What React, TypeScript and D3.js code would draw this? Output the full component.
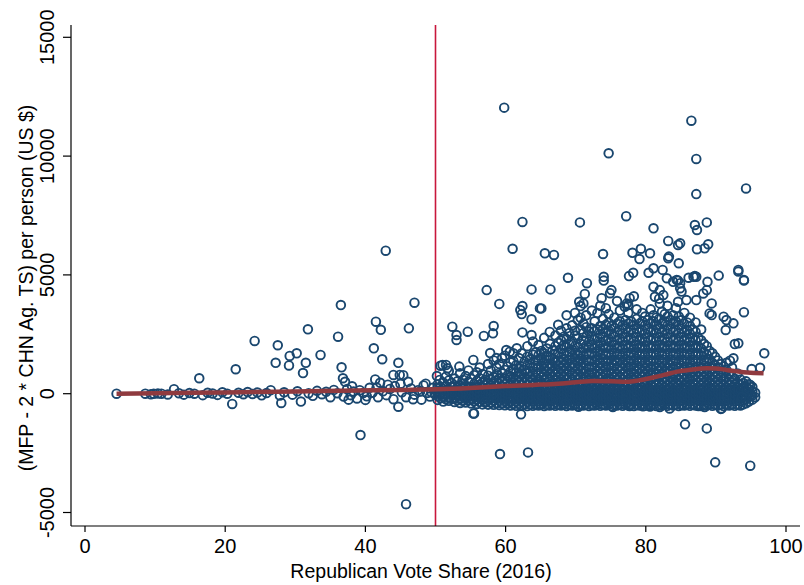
import * as d3 from 'd3';

const xTicks = [0, 20, 40, 60, 80, 100];
const yTicks = [-5000, 0, 5000, 10000, 15000];

// counties left of 50% (share, value)
const leftPoints: [number, number][] = [
  [4.5, 0], [8.6, 0], [9.4, -20], [9.8, 0], [10.4, 10], [10.9, 0], [11.8, -30], [12.7, 190], [13.4, 20],
  [14.1, -40], [14.9, 30], [15.6, 0], [16.3, 650], [16.8, -60], [17.5, 40], [18.2, 10], [18.9, -50],
  [19.6, 60], [20.3, 0], [21, -430], [21.5, 1030], [21.9, 40], [22.6, -20], [23.2, 70], [23.9, -10],
  [24.2, 2220], [24.6, 50], [25.2, -70], [25.9, 30], [26.5, 150], [27.2, 1300], [27.5, 2040], [27.8, -80],
  [28, -390], [28.4, 60], [29.1, 1190], [29.2, 1590], [29.6, -40], [30.2, 1700], [30.3, 100], [30.8, -330],
  [31.1, 870], [31.5, 1300], [31.8, 2710], [31.9, 20], [32.5, -90], [33.1, 120], [33.6, 1630], [33.8, -20],
  [34.4, 80], [35, -150], [35.5, 160], [36, 20], [36.1, 2400], [36.5, 3730], [36.6, 1110], [36.8, 650],
  [37.1, 500], [36.9, -120], [37.4, 200], [37.9, -60], [38.3, 90], [38.8, -200], [39.3, -1740], [39.2, 150],
  [39.7, 30], [40.2, -110], [40.6, 250], [41, 40], [41.2, 1910], [41.4, 600], [41.5, 3030], [41.8, -150],
  [42.1, 460], [42.2, 2690], [42.4, 1450], [42.5, 100], [42.9, 6020], [43, -60], [43.5, 200], [44, 790],
  [44, -230], [44.2, 320], [44.7, 1300], [44.7, -550], [44.9, 790], [45.2, 60], [45.4, 780], [45.8, -150],
  [45.8, -4650], [46.1, 500], [46.2, 2750], [46.5, 220], [47, 3830], [47, -40], [47.5, 150], [48, -250],
  [48.3, 350], [48.8, 30], [49.2, -120], [49.6, 250], [49.9, -20], [38.1, 310], [40, -260], [43.2, 380],
  [46.8, -230], [48.6, 420], [37.6, -250], [41.6, 260], [45, 410], [47.8, 90], [49.4, 60],
];

// dense band right of 50%: share -> values read bottom to top
const bandColumns: [number, number[]][] = [
  [50.3, [-260, -90, 40, 250, 390]],
  [50.7, [-190, -30, 150, 280, 1180]],
  [51.1, [-330, -140, 0, 200, 470]],
  [51.5, [-240, -60, 120, 310, 720]],
  [51.9, [-300, -160, 60, 180, 560, 960]],
  [52.3, [-210, -50, 100, 290, 450]],
  [52.7, [-350, -190, 20, 140, 360, 640]],
  [53.1, [-280, -100, 80, 250, 520]],
  [53.5, [-390, -210, -40, 160, 340, 860]],
  [53.9, [-300, -120, 50, 210, 430, 590]],
  [54.3, [-370, -170, -10, 130, 310, 740]],
  [54.7, [-280, -120, 70, 240, 500, 980]],
  [55.1, [-410, -230, -60, 110, 290, 620]],
  [55.5, [-320, -140, 30, 200, 410, 780]],
  [55.9, [-430, -250, -80, 120, 270, 540, 900]],
  [56.3, [-340, -180, 10, 160, 380, 650, 1100]],
  [56.7, [-450, -240, -100, 70, 240, 470, 830]],
  [57.1, [-370, -200, 0, 150, 360, 590]],
  [57.5, [-460, -270, -80, 90, 250, 460, 760, 1250]],
  [57.9, [-380, -210, -30, 170, 330, 610, 980]],
  [58.3, [-470, -290, -110, 60, 220, 420, 700, 1400]],
  [58.7, [-400, -200, -20, 130, 340, 540, 820, 1100]],
  [59.1, [-480, -300, -130, 50, 240, 410, 650, 1250]],
  [59.5, [-410, -230, -50, 140, 300, 520, 860, 1500]],
  [59.9, [-490, -310, -120, 30, 210, 400, 630, 1000, 1600]],
  [60.3, [-420, -240, -40, 110, 290, 510, 780, 1150]],
  [60.7, [-500, -300, -150, 40, 200, 380, 700, 930, 1320]],
  [61.1, [-430, -250, -70, 120, 280, 480, 680, 1050, 1380]],
  [61.5, [-510, -330, -140, 10, 210, 400, 590, 900, 1200]],
  [61.9, [-440, -260, -80, 90, 270, 490, 730, 1060, 1500]],
  [62.3, [-500, -340, -170, 20, 180, 370, 580, 850, 1150, 1700]],
  [62.7, [-450, -250, -90, 100, 260, 460, 690, 1000, 1350]],
  [63.1, [-520, -350, -160, 0, 190, 380, 600, 880, 1220, 1560, 2000]],
  [63.5, [-460, -280, -100, 70, 250, 470, 710, 950, 1270, 1450]],
  [63.9, [-510, -330, -180, -10, 170, 350, 570, 820, 1100, 1650, 2200]],
  [64.3, [-470, -270, -110, 80, 240, 440, 670, 910, 1180, 1400, 1750]],
  [64.7, [-500, -320, -150, 30, 200, 410, 600, 850, 1120, 1380, 1620, 2050]],
  [65.1, [-460, -290, -90, 60, 260, 430, 690, 900, 1190, 1500, 1800]],
  [65.5, [-520, -350, -170, -20, 180, 360, 580, 800, 1050, 1300, 1700, 2350]],
  [65.9, [-480, -300, -120, 40, 230, 460, 650, 930, 1140, 1420, 1600, 1900]],
  [66.3, [-500, -330, -140, 20, 170, 390, 610, 860, 1080, 1250, 1550, 2100, 2600]],
  [66.7, [-450, -270, -110, 90, 260, 440, 700, 950, 1200, 1470, 1820]],
  [67.1, [-510, -360, -180, 0, 210, 370, 560, 810, 1040, 1340, 1680, 2000, 2450]],
  [67.5, [-470, -280, -100, 50, 240, 450, 680, 900, 1160, 1390, 1720, 2150, 2900]],
  [67.9, [-500, -340, -150, 30, 180, 400, 620, 840, 1090, 1310, 1540, 1880, 2250, 2650]],
  [68.3, [-460, -300, -90, 80, 270, 430, 700, 950, 1200, 1450, 1700, 2050, 2400]],
  [68.7, [-520, -330, -170, -10, 190, 360, 590, 810, 1070, 1330, 1600, 1960, 2300, 2750, 3300]],
  [69.1, [-480, -290, -120, 60, 230, 460, 660, 920, 1150, 1420, 1750, 2080, 2550]],
  [69.5, [-500, -350, -160, 20, 170, 390, 610, 870, 1100, 1290, 1580, 1850, 2200, 2880]],
  [69.9, [-450, -270, -100, 90, 250, 440, 700, 930, 1180, 1460, 1720, 2000, 2450, 2650, 3400]],
  [70.3, [-510, -320, -140, 0, 200, 370, 580, 800, 1060, 1350, 1640, 1960, 2330, 3100]],
  [70.7, [-470, -300, -110, 70, 260, 450, 680, 950, 1210, 1470, 1750, 2100, 2700, 3200]],
  [71.1, [-500, -340, -170, 30, 180, 410, 640, 860, 1080, 1320, 1600, 1900, 2250, 2550, 2950]],
  [71.5, [-460, -280, -90, 50, 240, 430, 690, 910, 1170, 1430, 1700, 2020, 2380, 2800, 3300]],
  [71.9, [-520, -330, -150, -10, 210, 380, 600, 830, 1100, 1370, 1660, 1940, 2200, 2620]],
  [72.3, [-480, -300, -120, 80, 260, 460, 660, 880, 1140, 1400, 1720, 2060, 2420, 2750, 3500]],
  [72.7, [-500, -350, -160, 20, 170, 360, 590, 850, 1080, 1330, 1590, 1900, 2280, 2640, 3050]],
  [73.1, [-450, -270, -100, 60, 240, 440, 710, 940, 1190, 1450, 1760, 2050, 2340, 2700, 3400]],
  [73.5, [-510, -320, -140, 0, 190, 400, 620, 820, 1060, 1300, 1620, 1880, 2170, 2500, 2850, 3700]],
  [73.9, [-470, -290, -110, 90, 270, 470, 680, 930, 1180, 1460, 1700, 2010, 2390, 2720, 3150]],
  [74.3, [-500, -340, -170, 30, 200, 380, 580, 860, 1110, 1350, 1640, 1930, 2230, 2580, 2900, 3600]],
  [74.7, [-460, -280, -80, 70, 250, 430, 650, 900, 1150, 1400, 1690, 2000, 2310, 2660, 3000, 3350]],
  [75.1, [-520, -330, -150, -10, 180, 390, 610, 840, 1070, 1320, 1600, 1870, 2190, 2520, 2850]],
  [75.5, [-480, -300, -120, 40, 230, 460, 690, 920, 1200, 1430, 1730, 2050, 2400, 2760, 3200]],
  [75.9, [-500, -350, -160, 20, 210, 370, 570, 810, 1080, 1360, 1640, 1910, 2250, 2590, 2950, 3900]],
  [76.3, [-450, -270, -100, 80, 260, 450, 670, 950, 1160, 1420, 1680, 2000, 2320, 2680, 3050, 3500]],
  [76.7, [-510, -320, -140, 0, 190, 380, 600, 830, 1050, 1300, 1590, 1890, 2200, 2530, 2880]],
  [77.1, [-470, -290, -110, 60, 250, 470, 700, 910, 1190, 1450, 1720, 2040, 2370, 2730, 3100]],
  [77.5, [-500, -340, -170, 30, 170, 400, 620, 850, 1100, 1340, 1620, 1920, 2260, 2600, 2950, 3400]],
  [77.9, [-460, -280, -90, 90, 270, 430, 660, 900, 1140, 1400, 1710, 2010, 2330, 2680, 3050]],
  [78.3, [-520, -330, -150, -10, 200, 370, 590, 820, 1070, 1330, 1600, 1880, 2200, 2550, 2880, 4100]],
  [78.7, [-480, -300, -120, 50, 240, 460, 680, 940, 1180, 1460, 1740, 2060, 2380, 2720, 3150, 3550]],
  [79.1, [-500, -350, -160, 20, 180, 380, 600, 860, 1090, 1350, 1640, 1930, 2240, 2590, 2950]],
  [79.5, [-450, -270, -100, 70, 260, 450, 700, 920, 1160, 1410, 1690, 2000, 2320, 2670, 3050, 3400]],
  [79.9, [-510, -320, -140, 0, 210, 390, 570, 800, 1060, 1310, 1600, 1890, 2190, 2520, 2880, 3250]],
  [80.3, [-470, -290, -110, 80, 230, 440, 660, 930, 1190, 1440, 1720, 2030, 2360, 2730, 3100]],
  [80.7, [-500, -340, -170, 40, 190, 370, 620, 850, 1100, 1360, 1630, 1920, 2260, 2610, 2950, 3550]],
  [81.1, [-460, -280, -90, 60, 260, 460, 680, 890, 1140, 1400, 1700, 2000, 2330, 2670, 3050, 3300]],
  [81.5, [-520, -330, -150, -10, 180, 400, 590, 830, 1070, 1320, 1610, 1880, 2200, 2540, 2880, 3200]],
  [81.9, [-480, -300, -120, 70, 250, 430, 700, 950, 1180, 1450, 1740, 2050, 2370, 2730, 3150, 4000]],
  [82.3, [-500, -350, -160, 20, 200, 380, 600, 820, 1090, 1340, 1630, 1930, 2240, 2580, 2950, 3450]],
  [82.7, [-450, -270, -100, 90, 270, 470, 660, 910, 1160, 1420, 1690, 2000, 2320, 2680, 3050, 3350]],
  [83.1, [-510, -320, -140, 0, 190, 360, 580, 860, 1060, 1310, 1600, 1880, 2190, 2520, 2880, 3250, 3700]],
  [83.5, [-470, -290, -110, 50, 240, 450, 690, 930, 1200, 1440, 1720, 2030, 2360, 2720, 3100]],
  [83.9, [-500, -340, -170, 30, 170, 390, 610, 840, 1080, 1350, 1630, 1930, 2250, 2600, 2950, 3300]],
  [84.3, [-460, -280, -90, 80, 260, 440, 670, 900, 1150, 1410, 1700, 2000, 2320, 2670, 3050, 3600]],
  [84.7, [-520, -330, -150, -10, 210, 380, 590, 810, 1070, 1320, 1600, 1890, 2200, 2540, 2880, 3250]],
  [85.1, [-480, -300, -120, 60, 230, 460, 700, 940, 1180, 1440, 1730, 2040, 2370, 2730, 3100, 4300]],
  [85.5, [-500, -350, -160, 20, 190, 370, 600, 830, 1100, 1350, 1630, 1920, 2240, 2580, 2950, 3400]],
  [85.9, [-450, -270, -100, 70, 250, 450, 650, 920, 1140, 1410, 1690, 2000, 2330, 2680, 3000]],
  [86.3, [-510, -320, -140, 0, 200, 400, 620, 850, 1060, 1320, 1600, 1880, 2190, 2520, 2850, 3200]],
  [86.7, [-470, -290, -110, 90, 270, 430, 680, 890, 1170, 1440, 1720, 2030, 2360, 2700]],
  [87.1, [-500, -340, -170, 40, 180, 380, 590, 820, 1090, 1350, 1630, 1930, 2250, 2600, 3000]],
  [87.5, [-460, -280, -90, 60, 240, 460, 700, 950, 1150, 1410, 1700, 2000, 2350]],
  [87.9, [-520, -330, -150, -10, 190, 370, 570, 810, 1060, 1320, 1600, 1900, 2250, 2700]],
  [88.3, [-480, -300, -120, 70, 260, 450, 680, 920, 1170, 1440, 1750, 2100]],
  [88.7, [-500, -350, -160, 20, 210, 390, 610, 840, 1090, 1350, 1650, 2000]],
  [89.1, [-450, -270, -100, 80, 230, 440, 660, 900, 1150, 1450, 1800]],
  [89.5, [-510, -320, -140, 0, 190, 370, 590, 820, 1060, 1300, 1700]],
  [89.9, [-470, -290, -110, 50, 250, 460, 700, 920, 1200, 1550]],
  [90.3, [-500, -340, -170, 30, 180, 380, 600, 850, 1100, 1400]],
  [90.7, [-460, -280, -90, 70, 260, 440, 680, 950, 1250]],
  [91.1, [-520, -330, -150, -10, 200, 390, 610, 880, 1150]],
  [91.5, [-480, -300, -120, 60, 240, 450, 700, 1000, 1300]],
  [91.9, [-500, -340, -160, 20, 190, 370, 590, 850]],
  [92.3, [-450, -270, -100, 90, 260, 470, 720, 1100]],
  [92.7, [-510, -320, -140, 0, 200, 400, 630]],
  [93.1, [-470, -290, -110, 60, 240, 440, 850]],
  [93.5, [-500, -330, -170, 30, 180, 380, 600]],
  [93.9, [-450, -280, -90, 80, 260, 450]],
  [94.3, [-400, -230, -60, 110, 300, 520]],
  [94.7, [-330, -150, 20, 200, 400]],
  [95.2, [-250, -80, 100, 280]],
  [95.6, [-150, 40]],
];

// scattered counties away from the band
const outlierPoints: [number, number][] = [
  [59.8, 12040], [86.5, 11490], [74.7, 10120], [87.2, 9880], [87.2, 8400], [94.3, 8640], [62.4, 7230],
  [70.6, 7210], [77.2, 7470], [81.1, 6960], [87, 7100], [87.3, 6890], [88.7, 7210], [61, 6100], [65.6, 5910],
  [66.9, 5840], [73.9, 5880], [78.1, 5930], [79.3, 6100], [80.6, 5910], [79.1, 5670], [83.2, 6430],
  [84.6, 6260], [84.9, 6330], [83.2, 5700], [83.3, 5770], [84.7, 5490], [87.3, 6080], [88.4, 6120],
  [88.9, 6290], [93.2, 5210], [94, 4760], [68.9, 4880], [71.6, 4650], [63.7, 4390], [66.4, 4390], [74, 4920],
  [74, 4760], [77.6, 4950], [78.2, 5090], [80.4, 5090], [81.1, 5280], [82.4, 5210], [83, 4860], [84.6, 4760],
  [86.1, 4880], [87, 4950], [88.8, 4710], [90.4, 4970], [75.1, 4360], [57.3, 4360], [59.1, 3780],
  [62.1, 3520], [62.3, 3350], [62.4, 3690], [63.7, 3130], [64.9, 3590], [65.1, 3590], [62.4, 2580],
  [63.7, 2470], [56.9, 2430], [58.2, 2540], [58.3, 2850], [52.4, 2820], [53, 2470], [53, 2260], [54.6, 2610],
  [55.4, -830], [62.2, -870], [59.2, -2540], [63.2, -2470], [85.6, -1290], [88.7, -1460], [89.9, -2890],
  [94.9, -3030], [90.7, -640], [94.9, 370], [95, -60], [93.2, 160], [93.7, -130], [83.9, 4710], [84.4, 4790],
  [84.9, 4650], [86.8, 4920], [87.2, 4920], [93.2, 5140], [94, 4790], [94, 3430], [96.9, 1700], [96.3, 1090],
  [95.1, 1040], [93.2, 2120], [92.7, 2090], [92.5, 1490], [92, 1390], [90.8, -620], [91.4, 2680],
  [91.1, 3240], [92.5, 2960], [91.5, 3100], [71.3, 4200], [70.5, 3870], [70.7, 3690], [71.1, 3800],
  [73.7, 4020], [74.9, 4230], [77.3, 3800], [77.7, 4020], [77, 3660], [77.5, 3730], [81.1, 4500],
  [81.3, 4080], [82, 4360], [82.5, 4150], [82, 3800], [84.9, 4440], [84.6, 3870], [85.8, 3940], [87.2, 3940],
  [88.2, 4220], [88.7, 4360], [89.4, 3800], [89.1, 3380], [89.4, 3310], [57.1, -340], [60.6, -340],
  [64.9, -430], [66.8, -270], [68.5, -430], [70.4, -550], [72.5, -480], [75.3, -560], [77.7, -520],
  [79.6, -530], [80.6, -540], [82, -560], [83.4, -620], [85.1, -480], [87.5, -520], [88.4, -560],
  [55.5, -830], [55.4, 1420], [53.4, 1140], [57.8, 1710], [58.7, 1500], [60.1, 1840], [60.6, 1770],
  [61.1, 1700], [61.6, 1910], [51, 1210], [51.5, 1210], [51.7, 1070], [50.2, 745], [50.6, 580],
];

// lowess fit
const fitShare = [4.5, 10, 20, 30, 36.4, 45, 50.2, 55, 60, 64, 67.5, 70, 72.5, 75, 77.3, 79, 81, 83, 84.5, 86.5, 88.7, 90, 91.5, 93, 94.5, 96.8];
const fitValue = [0, 20, 55, 90, 120, 160, 185, 240, 320, 370, 420, 480, 530, 520, 500, 560, 680, 820, 930, 1010, 1070, 1060, 1000, 940, 890, 860];

const font = '"Liberation Sans", Arial, sans-serif';

export default function App() {
  const x = d3.scaleLinear().domain([0, 100]).range([85, 786]);
  const y = d3.scaleLinear().domain([0, 15000]).range([393.7, 37.3]);
  const left = 71, top = 25, bottom = 526, right = 800;

  const points: [number, number][] = [
    ...leftPoints,
    ...bandColumns.flatMap(([s, vals]) => vals.map(v => [s, v] as [number, number])),
    ...outlierPoints,
  ];

  const fitLine = d3.line<number>()
    .x((_, i) => x(fitShare[i]))
    .y(d => y(d))
    .curve(d3.curveMonotoneX);

  return (
    <svg width={804} height={585} style={{ position: 'absolute', left: 0, top: 0, background: '#fff' }}>
      <rect width={804} height={585} fill="#fff" />
      {/* 50% line */}
      <line x1={x(50)} x2={x(50)} y1={top} y2={bottom} stroke="#c8173c" strokeWidth={1.6} />

      {points.map(([s, v], i) => (
        <circle key={i} cx={x(s)} cy={y(v)} r={4.3} fill="none" stroke="#1a476f" strokeWidth={1.9} />
      ))}

      <path d={fitLine(fitValue) ?? ''} fill="none" stroke="#8f3a3f" strokeWidth={4.5} />

      {/* axes */}
      <line x1={left} x2={left} y1={top} y2={bottom} stroke="#000" strokeWidth={1.2} />
      <line x1={left} x2={right} y1={bottom} y2={bottom} stroke="#000" strokeWidth={1.2} />
      {yTicks.map(t => (
        <g key={t}>
          <line x1={left - 8} x2={left} y1={y(t)} y2={y(t)} stroke="#000" strokeWidth={1.2} />
          <text transform={`translate(54,${y(t)}) rotate(-90)`} textAnchor="middle"
            fontFamily={font} fontSize={20} fill="#000">{t}</text>
        </g>
      ))}
      {xTicks.map(t => (
        <g key={t}>
          <line x1={x(t)} x2={x(t)} y1={bottom} y2={bottom + 6} stroke="#000" strokeWidth={1.2} />
          <text x={x(t)} y={553} textAnchor="middle" fontFamily={font} fontSize={20} fill="#000">{t}</text>
        </g>
      ))}
      <text x={421} y={578} textAnchor="middle" fontFamily={font} fontSize={19.5} fill="#000">
        Republican Vote Share (2016)
      </text>
      <text transform="translate(33,288) rotate(-90)" textAnchor="middle" fontFamily={font} fontSize={19.5} fill="#000">
        (MFP - 2 * CHN Ag. TS) per person (US $)
      </text>
    </svg>
  );
}
